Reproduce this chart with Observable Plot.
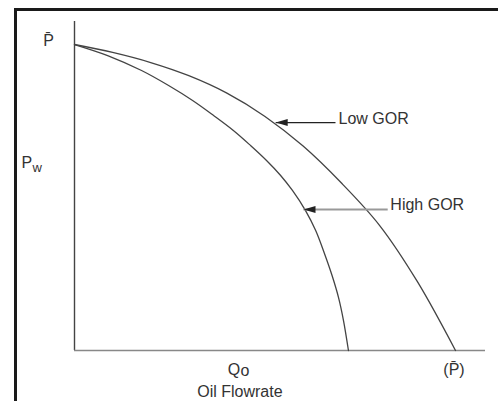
<!DOCTYPE html>
<html><head><meta charset="utf-8">
<script src="https://cdn.jsdelivr.net/npm/d3@7"></script>
<script src="https://cdn.jsdelivr.net/npm/@observablehq/plot@0.6"></script>
<style>
body{margin:0;background:#fff;}
#wrap{position:relative;width:498px;height:401px;overflow:hidden;}
#wrap svg{position:absolute;left:0;top:0;}
#frame{position:absolute;left:14px;top:8px;width:700px;height:700px;border-top:3px solid #1a1a1a;border-left:3px solid #1a1a1a;pointer-events:none;}
</style></head><body><div id="wrap"><div id="frame"></div></div>
<script>
// Curves: normalized oil rate (Qo) vs flowing pressure (Pw / P̄)
const lowQ  = [0, 0.1, 0.2, 0.3, 0.4, 0.5, 0.6, 0.7, 0.8, 0.9, 1];
const lowP  = [1, 0.974, 0.941, 0.898, 0.841, 0.765, 0.668, 0.548, 0.41, 0.225, 0];
const highQ = [0, 0.087, 0.176, 0.247, 0.310, 0.365, 0.417, 0.462, 0.504, 0.541, 0.572, 0.606, 0.633, 0.656, 0.676, 0.693, 0.706, 0.719];
const highP = [1, 0.964, 0.915, 0.866, 0.817, 0.768, 0.719, 0.670, 0.621, 0.572, 0.523, 0.458, 0.392, 0.317, 0.245, 0.173, 0.098, 0];
// Annotations
const seriesNames = ["Low GOR", "High GOR"];
const arrowTipQ = [0.528, 0.601];
const arrowTipP = [0.745, 0.461];
const arrowTailQ = [0.685, 0.822];
const labelQ = [0.693, 0.829];

const low = lowQ.map((q, i) => ({q, p: lowP[i]}));
const high = highQ.map((q, i) => ({q, p: highP[i]}));
const arrows = seriesNames.map((name, i) => ({name, tipQ: arrowTipQ[i], tipP: arrowTipP[i], tailQ: arrowTailQ[i], labelQ: labelQ[i]}));

const headSymbol = {
  draw(ctx) {
    ctx.moveTo(0, 0);
    ctx.lineTo(12, -3.5);
    ctx.lineTo(12, 3.5);
    ctx.closePath();
  }
};

const font = "'Liberation Sans', Arial, sans-serif";
const ink = "#333";

const chart = Plot.plot({
  width: 498,
  height: 401,
  marginLeft: 74,
  marginRight: 13,
  marginTop: 21,
  marginBottom: 51,
  style: {fontFamily: font, background: "transparent"},
  x: {domain: [0, 1.0787], axis: null},
  y: {domain: [0, 1.0752], axis: null},
  marks: [
    Plot.ruleX([0], {stroke: "#444", strokeWidth: 1.4}),
    Plot.ruleY([0], {stroke: "#888", strokeWidth: 1.5}),
    Plot.line(low, {x: "q", y: "p", curve: "catmull-rom", stroke: "#444", strokeWidth: 1.3}),
    Plot.line(high, {x: "q", y: "p", curve: "catmull-rom", stroke: "#444", strokeWidth: 1.3}),
    // arrows
    Plot.link(arrows.slice(0, 1), {x1: "tailQ", x2: "tipQ", y1: "tipP", y2: "tipP", stroke: "#222", strokeWidth: 1.3}),
    Plot.link(arrows.slice(1), {x1: "tailQ", x2: "tipQ", y1: "tipP", y2: "tipP", stroke: "#999", strokeWidth: 2}),
    Plot.dot(arrows, {x: "tipQ", y: "tipP", symbol: headSymbol, fill: "#222", stroke: null, r: 4}),
    Plot.text(arrows, {x: "labelQ", y: "tipP", text: "name", textAnchor: "start", lineAnchor: "bottom", dy: 1, fontSize: 16, fill: ink}),
    // axis labels
    Plot.text(["P\u0304"], {x: 0, y: 1, text: d => d, dx: -26, dy: 1, textAnchor: "middle", lineAnchor: "bottom", fontSize: 16, fill: ink}),
    Plot.text(["P"], {x: 0, y: 0.598, text: d => d, dx: -53, textAnchor: "start", lineAnchor: "bottom", fontSize: 16, fill: ink}),
    Plot.text(["w"], {x: 0, y: 0.598, text: d => d, dx: -42, dy: 4, textAnchor: "start", lineAnchor: "bottom", fontSize: 13, fill: ink}),
    Plot.text(["Q"], {x: 0.402, y: 0, text: d => d, dy: 24, textAnchor: "start", lineAnchor: "bottom", fontSize: 16, fill: ink}),
    Plot.text(["o"], {x: 0.436, y: 0, text: d => d, dy: 25, textAnchor: "start", lineAnchor: "bottom", fontSize: 16, fill: ink}),
    Plot.text(["Oil Flowrate"], {x: 0.434, y: 0, text: d => d, dy: 46, textAnchor: "middle", lineAnchor: "bottom", fontSize: 16, fill: ink}),
    Plot.text(["(P\u0304)"], {x: 0.996, y: 0, text: d => d, dy: 24, textAnchor: "middle", lineAnchor: "bottom", fontSize: 16, fill: ink})
  ]
});
document.getElementById("wrap").prepend(chart);
</script>
</body></html>
